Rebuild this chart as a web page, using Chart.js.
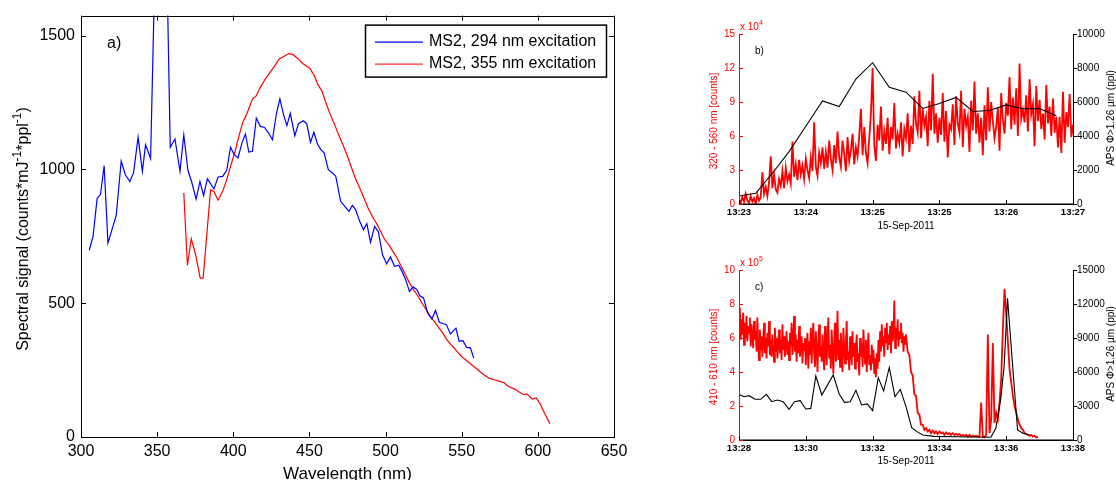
<!DOCTYPE html>
<html>
<head>
<meta charset="utf-8">
<script src="https://cdn.jsdelivr.net/npm/chart.js@4.4.1/dist/chart.umd.min.js"></script>
<style>
html, body { margin: 0; padding: 0; background: #fff; overflow: hidden; width: 1116px; height: 480px; }
canvas { position: absolute; }
#ca { left: 0; top: 0; }
#cb { left: 690px; top: 0; }
#cc { left: 690px; top: 236px; }
</style>
</head>
<body>
<canvas id="ca" width="660" height="490"></canvas>
<canvas id="cb" width="426" height="235"></canvas>
<canvas id="cc" width="426" height="244"></canvas>
<script>
// ---- panel a: MS2 emission spectra ----
var wl294 = [305.4,307.9,310.6,312.8,315.2,317.7,320.4,323.1,326.4,329.1,332.1,334.5,337.5,340.3,342.4,345.7,348.4,351.1,353.8,356.0,358.6,361.7,365.0,367.5,370.2,372.6,375.6,378.1,380.5,383.0,387.3,390.0,393.0,395.7,398.2,400.6,403.1,405.8,408.0,410.2,412.6,415.1,417.8,420.5,423.2,425.7,428.4,430.6,433.0,435.2,437.4,440.4,442.8,446.0,448.2,450.7,452.9,455.3,457.5,459.7,462.4,465.1,467.3,470.5,473.5,476.0,478.2,480.3,483.0,485.5,487.7,490.1,492.8,495.3,498.0,500.7,503.2,505.9,508.6,510.8,513.2,515.7,518.1,520.6,522.5,524.9,527.7,530.4,532.8,535.3,537.5,539.9,542.6,546.2,548.3,550.8,553.2,555.7,557.9];
var sig294 = [698,750,892,906,1014,725,776,827,1031,980,955,987,1120,993,1092,1041,1720,3000,3000,1880,1083,1114,993,1129,997,955,889,955,903,965,927,972,974,997,1083,1055,1043,1101,1132,1065,1068,1192,1161,1157,1136,1111,1211,1264,1205,1164,1210,1126,1171,1182,1171,1101,1139,1095,1074,1061,999,987,974,881,860,843,866,850,806,775,797,728,787,766,681,647,673,638,642,619,588,544,561,551,528,520,463,441,473,429,424,420,385,407,358,360,335,333,295];
var wl355 = [367.5,369.9,372.4,375.3,378.3,380.2,385.1,387.3,390.0,393.0,395.7,398.5,401.2,403.4,406.1,409.1,412.6,414.8,417.5,420.8,423.8,427.0,430.3,432.5,436.5,439.3,442.5,446.0,450.1,452.9,455.6,458.3,460.5,463.7,467.0,469.2,471.9,474.6,477.3,480.1,483.0,485.8,488.5,491.2,493.9,496.7,499.4,502.1,504.8,507.5,510.3,513.0,515.7,518.4,521.1,523.9,526.6,529.3,532.0,534.7,537.5,540.2,542.9,545.6,548.3,551.0,553.8,556.5,559.2,561.9,564.6,567.9,571.2,575.2,578.0,580.7,584.8,588.0,590.8,592.9,596.2,598.9,601.6,604.3,607.9];
var sig355 = [912,642,741,681,594,594,924,918,885,918,962,1018,1068,1118,1174,1211,1264,1273,1304,1336,1360,1385,1414,1420,1433,1429,1414,1394,1379,1354,1317,1292,1254,1205,1161,1130,1093,1055,1012,968,931,893,856,825,800,769,738,719,694,669,638,607,576,551,528,501,476,451,432,411,389,364,345,329,311,295,283,270,258,245,233,220,214,208,202,189,179,167,158,161,142,146,123,90,50];
var aXTicks = [300,350,400,450,500,550,600,650];
var aYTicks = [0,500,1000,1500];

// ---- panel b: 13:23 - 13:27, minutes after 13:23 ----
var bRedStep = 0.02;   // minutes between samples
var bRed = [0.4,0.1,0.6,0.2,0.9,0.3,0.1,0.7,0.2,0.5,0.0,0.8,0.3,
  0.6,2.8,0.9,1.5,0.7,1.9,4.2,1.4,2.6,1.3,1.0,2.2,1.6,
  2.9,1.4,3.2,2.0,2.6,1.8,5.5,2.4,3.5,2.1,3.9,2.6,3.4,2.2,4.0,
  3.0,2.3,4.1,2.9,7.2,3.3,2.5,4.5,3.6,5.0,3.1,4.6,3.2,5.6,4.0,3.0,5.2,3.6,6.4,4.1,
  3.3,5.6,4.4,2.9,5.9,3.8,4.7,6.2,3.5,5.0,4.2,6.0,8.4,4.3,6.8,4.5,3.6,5.8,8.0,
  12.0,
  5.2,3.8,7.0,5.6,8.6,4.7,6.4,5.3,7.6,4.4,6.8,5.7,8.9,4.9,6.2,5.4,7.2,4.2,6.6,5.8,
  8.0,4.6,6.9,5.3,9.5,7.1,6.3,10.0,5.8,8.4,6.9,7.7,5.1,9.1,6.5,11.5,6.2,8.0,5.4,7.6,
  6.1,9.8,5.5,8.2,4.1,7.0,6.6,8.8,5.2,9.5,7.1,6.3,10.0,5.0,8.4,6.9,7.7,4.6,9.1,6.5,
  10.8,6.2,8.0,5.4,7.6,4.3,8.7,5.6,10.3,6.4,9.0,7.3,5.8,6.8,8.5,4.7,9.8,7.4,6.2,8.9,
  7.8,11.2,6.6,9.4,7.0,10.2,6.0,12.4,7.5,8.3,7.2,9.6,6.4,11.0,7.9,8.8,5.1,10.4,7.3,9.2,
  6.6,8.0,5.7,10.5,7.1,8.6,6.0,9.3,6.3,7.7,
  5.0,7.7,4.5,9.9,5.4,8.1,6.8,9.7,5.9,7.0];          // x 10^4 counts
var bApsT = [0,0.2,0.4,0.6,0.8,1.0,1.2,1.4,1.6,1.8,2.0,2.2,2.4,2.6,2.8,3.0,3.2,3.4,3.6,3.8];
var bAps = [470,630,1810,3080,4570,6060,5730,7350,8310,6870,6580,5620,5910,6270,5440,5500,5830,5600,5620,5190];
var bXTicks = [0,0.8,1.6,2.4,3.2,4.0];
var bXLabels = ['13:23','13:24','13:25','13:25','13:26','13:27'];
var bLTicks = [0,3,6,9,12,15];
var bRTicks = [0,2000,4000,6000,8000,10000];

// ---- panel c: 13:28 - 13:38, minutes after 13:28 ----
var cRedStepA = 0.025;   // dense part, from 0 min
var cRedA = [6.6,7.8,5.9,7.1,6.2,7.5,5.6,6.9,6.0,7.3,5.8,6.7,6.3,7.2,5.5,6.8,6.1,5.4,7.0,5.9,
  6.4,5.2,7.2,5.6,4.7,6.5,5.3,6.1,4.9,5.8,6.9,5.1,6.0,4.8,6.3,5.5,7.0,5.0,5.9,4.9,
  6.2,5.4,4.6,6.6,5.2,6.0,4.8,5.7,6.5,5.1,5.9,4.7,6.8,5.3,6.1,4.9,5.6,6.4,5.0,5.8,
  4.7,6.3,5.5,6.9,5.0,5.8,7.3,5.2,6.2,4.6,5.9,5.1,6.7,4.9,5.6,6.1,4.5,5.7,5.3,6.0,
  4.4,5.6,6.3,4.2,5.8,5.0,6.6,4.5,5.9,6.9,5.1,4.3,6.4,5.4,4.0,5.7,6.8,4.9,5.5,4.6,
  6.2,5.0,4.1,6.7,5.3,4.4,6.0,7.2,4.8,5.6,4.2,6.5,5.1,3.9,5.8,6.9,4.6,5.4,7.6,4.7,
  5.9,4.3,6.3,5.0,4.0,6.6,5.4,4.5,5.8,7.0,4.7,5.2,4.1,6.1,5.3,4.4,6.4,4.9,5.7,4.2,
  5.5,6.2,4.6,5.1,3.8,6.0,4.9,5.7,4.3,6.5,5.2,4.5,5.9,4.0,5.4,6.3,4.4,5.0,4.1,5.6,
  4.5,5.3,3.9,4.8,3.7,5.1,4.2,5.9,4.6,6.4,5.2,6.8,5.5,6.1,4.9,6.6,5.7,6.9,5.3,6.2,
  5.6,6.7,5.1,7.0,5.8,6.3,8.2,5.4,6.6,5.9,7.1,5.5,6.4,6.0,6.9,5.7,6.3,5.2,6.1,5.6];   // x 10^5 counts
var cRedStartB = 5.0, cRedStepB = 0.05;   // after the drop
var cRedB = [6.2,5.2,5.0,4.0,3.8,2.7,2.6,1.6,1.5,0.9,
  0.9,0.6,0.7,0.5,0.6,0.4,0.55,0.4,0.5,0.35,
  0.5,0.4,0.45,0.3,0.45,0.35,0.4,0.3,0.4,0.3,
  0.35,0.3,0.35,0.25,0.3,0.25,0.3,0.2,0.3,0.2,
  0.25,0.2,0.25,0.2,0.2,2.2,0.2,0.15,0.3,6.2,
  0.4,1.2,5.7,1.0,1.6,1.2,2.2,3.6,6.5,8.9,
  7.4,5.8,4.2,3.4,2.6,2.0,1.6,1.2,0.9,0.7,
  0.6,0.4,0.35,0.3,0.25,0.3,0.2,0.25,0.15,0.2];
var cApsT = [0,0.15,0.3,0.48,0.65,0.82,0.98,1.15,1.32,1.5,1.66,1.83,2.0,2.15,2.3,2.48,2.82,3.0,3.16,3.33,3.5,3.67,3.84,4.0,4.17,4.33,4.5,4.67,4.83,5.0,5.17,5.33,5.5,5.83,6.5,7.0,7.54,7.69,7.84,7.94,8.04,8.34,8.5,8.7];
var cAps = [4030,3820,3910,3590,3590,4030,3380,3530,3380,2710,3380,3470,2740,2790,5650,3970,5740,4060,3320,3380,4380,3090,3180,2590,5500,4320,6400,3820,4470,2940,1090,740,440,320,290,260,240,1030,3700,6600,12500,880,590,440];
var cXTicks = [0,2,4,6,8,10];
var cXLabels = ['13:28','13:30','13:32','13:34','13:36','13:38'];
var cLTicks = [0,2,4,6,8,10];
var cRTicks = [0,3000,6000,9000,12000,15000];

var FONT = "'Liberation Sans', Arial, Helvetica, sans-serif";

function pts(xs, ys) {
  return ys.map(function (y, i) { return { x: xs[i], y: y }; });
}
function stepPts(start, step, ys) {
  return ys.map(function (y, i) { return { x: +(start + i * step).toFixed(4), y: y }; });
}
function setTicks(arr) {
  return function (s) { s.ticks = arr.map(function (v) { return { value: v }; }); };
}

// len > 0 points into the plot, len < 0 points outward
function tickMarks(chart, id, side, len, color) {
  var s = chart.scales[id], a = chart.chartArea, ctx = chart.ctx;
  ctx.save();
  ctx.strokeStyle = color;
  ctx.lineWidth = 1;
  ctx.beginPath();
  s.ticks.forEach(function (t) {
    var p = Math.round(s.getPixelForValue(t.value)) + 0.5;
    if (side === 'bottom') { ctx.moveTo(p, a.bottom); ctx.lineTo(p, a.bottom - len); }
    if (side === 'top') { ctx.moveTo(p, a.top); ctx.lineTo(p, a.top + len); }
    if (side === 'left') { ctx.moveTo(a.left, p); ctx.lineTo(a.left + len, p); }
    if (side === 'right') { ctx.moveTo(a.right, p); ctx.lineTo(a.right - len, p); }
  });
  ctx.stroke();
  ctx.restore();
}

// text with superscript pieces: parts = [[text, isSup], ...]
function richText(ctx, parts, x, y, size, align) {
  var w = 0;
  parts.forEach(function (p) {
    ctx.font = (p[1] ? Math.round(size * 0.72) : size) + 'px ' + FONT;
    w += ctx.measureText(p[0]).width;
  });
  var cx = align === 'center' ? x - w / 2 : x;
  ctx.textAlign = 'left';
  ctx.textBaseline = 'middle';
  parts.forEach(function (p) {
    ctx.font = (p[1] ? Math.round(size * 0.72) : size) + 'px ' + FONT;
    ctx.fillText(p[0], cx, p[1] ? y - size * 0.38 : y);
    cx += ctx.measureText(p[0]).width;
  });
}

var panelA = {
  id: 'panelA',
  afterDraw: function (chart) {
    var ctx = chart.ctx, a = chart.chartArea;
    ctx.save();
    ctx.strokeStyle = '#000';
    ctx.lineWidth = 1;
    ctx.strokeRect(Math.round(a.left) + 0.5, Math.round(a.top) + 0.5, Math.round(a.right - a.left), Math.round(a.bottom - a.top));
    ctx.restore();
    tickMarks(chart, 'x', 'bottom', 5, '#000');
    tickMarks(chart, 'x', 'top', 5, '#000');
    tickMarks(chart, 'y', 'left', 5, '#000');
    tickMarks(chart, 'y', 'right', 5, '#000');

    ctx.save();
    ctx.fillStyle = '#000';
    ctx.font = '16px ' + FONT;
    ctx.textBaseline = 'middle';
    ctx.fillText('a)', a.left + 26, a.top + 28);

    // legend box
    var bl = a.right - 249, br = a.right - 8, bt = a.top + 9, bb = a.top + 61;
    ctx.fillStyle = '#fff';
    ctx.fillRect(bl, bt, br - bl, bb - bt);
    ctx.strokeStyle = '#000';
    ctx.lineWidth = 1.5;
    ctx.strokeRect(bl + 0.5, bt + 0.5, br - bl, bb - bt);
    var rows = [['MS2, 294 nm excitation', '#0000ff', bt + 17], ['MS2, 355 nm excitation', '#ff3030', bt + 39]];
    rows.forEach(function (r) {
      ctx.strokeStyle = r[1];
      ctx.lineWidth = 1.2;
      ctx.beginPath();
      ctx.moveTo(bl + 10, r[2] + 0.5);
      ctx.lineTo(bl + 58, r[2] + 0.5);
      ctx.stroke();
      ctx.fillStyle = '#000';
      ctx.font = '16px ' + FONT;
      ctx.textAlign = 'left';
      ctx.fillText(r[0], bl + 64, r[2]);
    });

    // axis titles
    ctx.fillStyle = '#000';
    ctx.font = '17px ' + FONT;
    ctx.textAlign = 'center';
    ctx.fillText('Wavelength (nm)', (a.left + a.right) / 2, 474);
    ctx.translate(24, 229);
    ctx.rotate(-Math.PI / 2);
    richText(ctx, [['Spectral signal (counts*mJ', 0], ['-1', 1], ['*ppl', 0], ['-1', 1], [')', 0]], 0, 0, 16, 'center');
    ctx.restore();
  }
};

function timePanel(letter, expo, leftTitle, dateY) {
  return {
    id: 'timePanel',
    afterDraw: function (chart) {
      var ctx = chart.ctx, a = chart.chartArea;
      var L = Math.round(a.left) + 0.5, R = Math.round(a.right) + 0.5, B = Math.round(a.bottom);
      ctx.save();
      ctx.lineWidth = 1;
      ctx.strokeStyle = '#ff0000';
      ctx.beginPath(); ctx.moveTo(L, a.top); ctx.lineTo(L, B); ctx.stroke();
      ctx.strokeStyle = '#000';
      ctx.beginPath(); ctx.moveTo(R, a.top); ctx.lineTo(R, B); ctx.stroke();
      ctx.lineWidth = 1.6;
      ctx.beginPath(); ctx.moveTo(a.left, B + 0.2); ctx.lineTo(a.right + 1, B + 0.2); ctx.stroke();
      ctx.restore();
      tickMarks(chart, 'x', 'bottom', 4, '#000');
      tickMarks(chart, 'yL', 'left', 4, '#ff0000');
      tickMarks(chart, 'yR', 'right', -4, '#000');

      ctx.save();
      ctx.fillStyle = '#ff0000';
      richText(ctx, [['x 10', 0], [expo, 1]], a.left + 1, a.top - 7, 10);
      ctx.fillStyle = '#000';
      ctx.font = '10px ' + FONT;
      ctx.textAlign = 'left';
      ctx.textBaseline = 'middle';
      ctx.fillText(letter, a.left + 16, a.top + 17);
      ctx.textAlign = 'center';
      ctx.fillText('15-Sep-2011', (a.left + a.right) / 2, a.bottom + dateY);
      ctx.restore();

      var mid = (a.top + a.bottom) / 2;
      ctx.save();
      ctx.fillStyle = '#ff0000';
      ctx.font = '10px ' + FONT;
      ctx.textAlign = 'center';
      ctx.textBaseline = 'middle';
      ctx.translate(a.left - 25, mid + 2);
      ctx.rotate(-Math.PI / 2);
      ctx.fillText(leftTitle, 0, 0);
      ctx.restore();

      ctx.save();
      ctx.fillStyle = '#000';
      ctx.font = '10px ' + FONT;
      ctx.textAlign = 'center';
      ctx.textBaseline = 'middle';
      ctx.translate(a.right + 38, mid - 1);
      ctx.rotate(-Math.PI / 2);
      ctx.fillText('APS \u03A6>1.26 \u00B5m (ppl)', 0, 0);
      ctx.restore();
    }
  };
}

Chart.defaults.font.family = FONT;

new Chart(document.getElementById('ca'), {
  type: 'line',
  data: {
    datasets: [
      { label: 'MS2, 294 nm excitation', data: pts(wl294, sig294), borderColor: '#0000ff', borderWidth: 1.2, pointRadius: 0, tension: 0 },
      { label: 'MS2, 355 nm excitation', data: pts(wl355, sig355), borderColor: '#ff0000', borderWidth: 1.2, pointRadius: 0, tension: 0 }
    ]
  },
  options: {
    responsive: false, animation: false, events: [],
    layout: { padding: { left: 0, top: 15, right: 46, bottom: 0 } },
    plugins: { legend: { display: false }, tooltip: { enabled: false } },
    scales: {
      x: {
        type: 'linear', min: 300, max: 650,
        afterBuildTicks: setTicks(aXTicks),
        afterFit: function (s) { s.height = 53; },
        grid: { display: false, drawTicks: false }, border: { display: false },
        ticks: { color: '#000', font: { size: 16 }, padding: 5, maxRotation: 0, autoSkip: false, callback: function (v) { return String(v); } }
      },
      y: {
        type: 'linear', min: 0, max: 1575,
        afterBuildTicks: setTicks(aYTicks),
        afterFit: function (s) { s.width = 81; },
        grid: { display: false, drawTicks: false }, border: { display: false },
        ticks: { color: '#000', font: { size: 16 }, padding: 6, autoSkip: false, callback: function (v) { return String(v); } }
      }
    }
  },
  plugins: [panelA]
});

function timeChart(el, redData, apsData, xMax, xTicks, xLabels, lMax, lTicks, rMax, rTicks, xH, plugin) {
  return new Chart(document.getElementById(el), {
    type: 'line',
    data: {
      datasets: [
        { label: 'APS', data: apsData, yAxisID: 'yR', borderColor: '#000', borderWidth: 1.1, pointRadius: 0, tension: 0 },
        { label: 'fluorescence', data: redData, yAxisID: 'yL', borderColor: '#ff0000', borderWidth: 1.8, pointRadius: 0, tension: 0 }
      ]
    },
    options: {
      responsive: false, animation: false, events: [],
      layout: { padding: { left: 0, top: 34, right: 0, bottom: 0 } },
      plugins: { legend: { display: false }, tooltip: { enabled: false } },
      scales: {
        x: {
          type: 'linear', min: 0, max: xMax,
          afterBuildTicks: setTicks(xTicks),
          afterFit: function (s) { s.height = xH; },
          grid: { display: false, drawTicks: false }, border: { display: false },
          ticks: { color: '#000', font: { size: 9.5, weight: 'bold' }, padding: 3, maxRotation: 0, autoSkip: false,
            callback: function (v, i) { return xLabels[i]; } }
        },
        yL: {
          type: 'linear', position: 'left', min: 0, max: lMax,
          afterBuildTicks: setTicks(lTicks),
          afterFit: function (s) { s.width = 49; },
          grid: { display: false, drawTicks: false }, border: { display: false },
          ticks: { color: '#ff0000', font: { size: 10 }, padding: 4, autoSkip: false, callback: function (v) { return String(v); } }
        },
        yR: {
          type: 'linear', position: 'right', min: 0, max: rMax,
          afterBuildTicks: setTicks(rTicks),
          afterFit: function (s) { s.width = 43; },
          grid: { display: false, drawTicks: false }, border: { display: false },
          ticks: { color: '#000', font: { size: 10 }, padding: 4, autoSkip: false, callback: function (v) { return String(v); } }
        }
      }
    },
    plugins: [plugin]
  });
}

timeChart('cb', stepPts(0, bRedStep, bRed), pts(bApsT, bAps), 4, bXTicks, bXLabels, 15, bLTicks, 10000, bRTicks, 31,
  timePanel('b)', '4', '320 - 560 nm [counts]', 22));

var cRed = stepPts(0, cRedStepA, cRedA).concat(stepPts(cRedStartB, cRedStepB, cRedB));
timeChart('cc', cRed, pts(cApsT, cAps), 10, cXTicks, cXLabels, 10, cLTicks, 15000, cRTicks, 40,
  timePanel('c)', '5', '410 - 610 nm [counts]', 21));
</script>
</body>
</html>
